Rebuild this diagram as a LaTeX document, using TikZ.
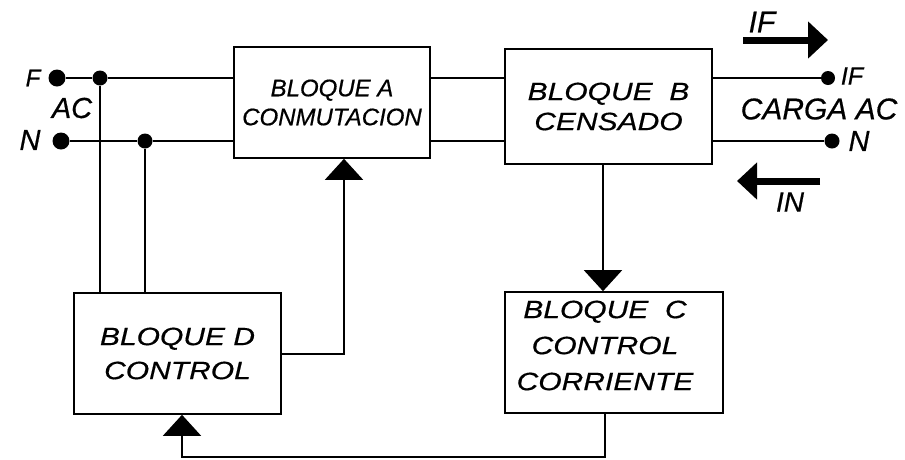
\documentclass[tikz,border=0pt]{standalone}
\usepackage{fontspec}
\setmainfont{Liberation Sans}[FakeBold=0.5]
\newfontfamily\wideblk{Liberation Sans}[FakeStretch=1.2, FakeBold=0.5]
\usetikzlibrary{arrows.meta}

\begin{document}
\begin{tikzpicture}[x=1pt, y=-1pt,
  blk/.style={draw, line width=1.6pt, inner sep=0pt, align=center},
  wire/.style={line width=1.4pt},
  feed/.style={line width=1.4pt, -{Triangle[length=21pt, width=38pt]}},
  flow/.style={line width=7pt, -{Triangle[length=20pt, width=36pt]}},
  dot/.style={circle, fill, inner sep=0pt, minimum size=#1},
  dot/.default=14pt,
  blkfont/.style={font=\wideblk\itshape\fontsize{25}{#1}\selectfont},
  lbl/.style={font=\itshape\fontsize{#1}{#1}\selectfont, inner sep=0pt}]

  \useasboundingbox (0,0) rectangle (905,459);

  % the four blocks
  \node[blk, minimum width=196pt, minimum height=111pt,
        font=\itshape\fontsize{24}{29}\selectfont] (blkA) at (332,102.5) {BLOQUE A\\CONMUTACION};
  \node[blk, blkfont=30, minimum width=207pt, minimum height=115pt] (blkB) at (608.5,106.5) {BLOQUE\ \ B\\CENSADO};
  \node[blk, blkfont=34, minimum width=207pt, minimum height=121pt] (blkD) at (177.5,353.5) {BLOQUE D\\CONTROL};
  \node[blk, minimum width=218pt, minimum height=121pt] (blkC) at (614,352.5) {};
  \node[blkfont=36, align=center, inner sep=0pt] (txtC) at ([shift={(-9,-7)}]blkC.center) {BLOQUE\ \ C\\CONTROL\\CORRIENTE};

  % supply side
  \node[dot=17pt] (tF) at (57,78) {};
  \node[dot=17pt] (tN) at (61,141) {};
  \node[dot=15pt] (jF) at (100,78) {};
  \node[dot=15pt] (jN) at (145,141) {};
  \node[lbl=24] (lF) at (33,78) {F};
  \node[lbl=29] (lN) at (30,140) {N};
  \node[lbl=29] (lAC) at (72,108) {AC};
  \draw[wire] (tF) -- (jF) -- (blkA.west |- jF);
  \draw[wire] (tN) -- (jN) -- (blkA.west |- jN);
  \draw[wire] (jF) -- (jF |- blkD.north);
  \draw[wire] (jN) -- (jN |- blkD.north);

  % A to B
  \draw[wire] (blkA.east |- jF) -- (blkB.west |- jF);
  \draw[wire] (blkA.east |- jN) -- (blkB.west |- jN);

  % load side
  \node[dot=14pt] (oF) at (828,78) {};
  \node[dot=15pt] (oN) at (832,141) {};
  \draw[wire] (blkB.east |- oF) -- (oF);
  \draw[wire] (blkB.east |- oN) -- (oN);
  \node[lbl=25] (lIF) at (852,76) {IF};
  \node[lbl=29] (lNo) at (859,141) {N};
  \node[lbl=30] (lLoad) at (819,109) {CARGA AC};

  % current arrows
  \coordinate (fS) at (743,40);
  \coordinate (fE) at (828,40);
  \draw[flow] (fS) -- (fE);
  \node[lbl=30] (lIFtop) at (762,22) {IF};
  \coordinate (nS) at (820,181);
  \coordinate (nE) at (737,181);
  \draw[flow] (nS) -- (nE);
  \node[lbl=28] (lIN) at (790,202) {IN};

  % signal paths
  \coordinate (cIn) at (blkC.north -| 603,0);
  \draw[feed] (blkB.south -| cIn) -- (cIn);
  \coordinate (aIn) at (blkA.south -| 344,0);
  \coordinate (dOut) at (blkD.east |- 0,354);
  \draw[feed] (dOut) -| (aIn);
  \coordinate (cOut) at (blkC.south -| 605,0);
  \coordinate (dIn) at (blkD.south -| 182,0);
  \draw[feed] (cOut) -- (cOut |- 0,457) -| (dIn);
\end{tikzpicture}
\end{document}
